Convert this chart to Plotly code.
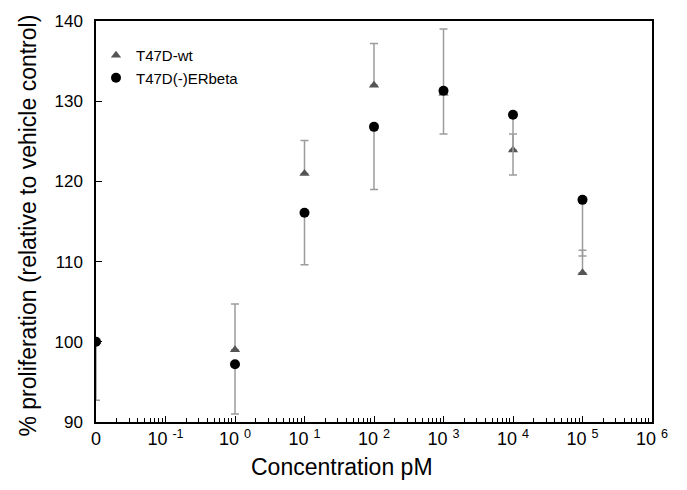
import plotly.graph_objects as go

# Concentration (pM); the control "0" is drawn at the 10^-2 position of the log axis
conc_pM = [0.01, 1, 10, 100, 1000, 10000, 100000]

wt_values = [100.0, 99.0, 121.0, 132.0, 131.0, 123.9, 108.6]
wt_err_up = [0.0, 5.7, 4.1, 5.2, 8.0, 2.0, 2.8]

erb_values = [100.0, 97.2, 116.1, 126.8, 131.3, 128.3, 117.7]
erb_err_down = [7.3, 6.2, 6.5, 7.8, 5.4, 7.5, 7.0]

x_tickvals = [0.01, 0.1, 1, 10, 100, 1000, 10000, 100000, 1000000]
x_ticktext = ["0", "10 <sup>-1</sup>", "10 <sup>0</sup>", "10 <sup>1</sup>", "10 <sup>2</sup>",
              "10 <sup>3</sup>", "10 <sup>4</sup>", "10 <sup>5</sup>", "10 <sup>6</sup>"]
y_tickvals = [90, 100, 110, 120, 130, 140]

FONT = "Liberation Sans, Arial, sans-serif"
ERR_COLOR = "#9c9c9c"

fig = go.Figure()
fig.add_trace(go.Scatter(
    x=conc_pM, y=wt_values, mode="markers", name="T47D-wt",
    marker=dict(symbol="triangle-up", size=9, color="#555555"),
    error_y=dict(type="data", symmetric=False, array=wt_err_up,
                 arrayminus=[0] * len(wt_err_up), color=ERR_COLOR, thickness=1.5, width=4),
))
fig.add_trace(go.Scatter(
    x=conc_pM, y=erb_values, mode="markers", name="T47D(-)ERbeta",
    marker=dict(symbol="circle", size=10, color="black"),
    error_y=dict(type="data", symmetric=False, array=[0] * len(erb_err_down),
                 arrayminus=erb_err_down, color=ERR_COLOR, thickness=1.5, width=4),
))

fig.update_layout(
    width=687, height=490,
    margin=dict(l=88, r=43, t=13, b=76, autoexpand=False),
    plot_bgcolor="white", paper_bgcolor="white",
    font=dict(family=FONT, color="black"),
    showlegend=True,
    legend=dict(x=0.0, y=0.955, xanchor="left", yanchor="top",
                bgcolor="rgba(0,0,0,0)", font=dict(size=15, family=FONT)),
    xaxis=dict(
        type="log", range=[-2, 6], tickmode="array", tickvals=x_tickvals, ticktext=x_ticktext,
        ticks="inside", ticklen=6, tickwidth=1, tickcolor="black",
        showline=True, linecolor="black", linewidth=1.5, mirror=True,
        showgrid=False, zeroline=False, automargin=False,
        tickfont=dict(size=18, family=FONT),
        minor=dict(ticks="inside", ticklen=4, tickwidth=1, tickcolor="black", dtick="D1", showgrid=False),
    ),
    yaxis=dict(
        range=[90, 140], tickmode="array", tickvals=y_tickvals,
        ticks="inside", ticklen=6, tickwidth=1, tickcolor="black",
        showline=True, linecolor="black", linewidth=1.5, mirror=True,
        showgrid=False, zeroline=False, automargin=False,
        tickfont=dict(size=17, family=FONT),
        ticklabelstandoff=8,
    ),
    annotations=[
        dict(text="Concentration pM", xref="paper", yref="paper", x=0.4425, y=-0.112,
             xanchor="center", yanchor="middle", showarrow=False, font=dict(size=23, family=FONT)),
        dict(text="% proliferation (relative to vehicle control)", xref="paper", yref="paper",
             x=-0.123, y=0.489, xanchor="center", yanchor="middle", textangle=-90,
             showarrow=False, font=dict(size=23, family=FONT)),
    ],
)

fig.write_html("out.html")
